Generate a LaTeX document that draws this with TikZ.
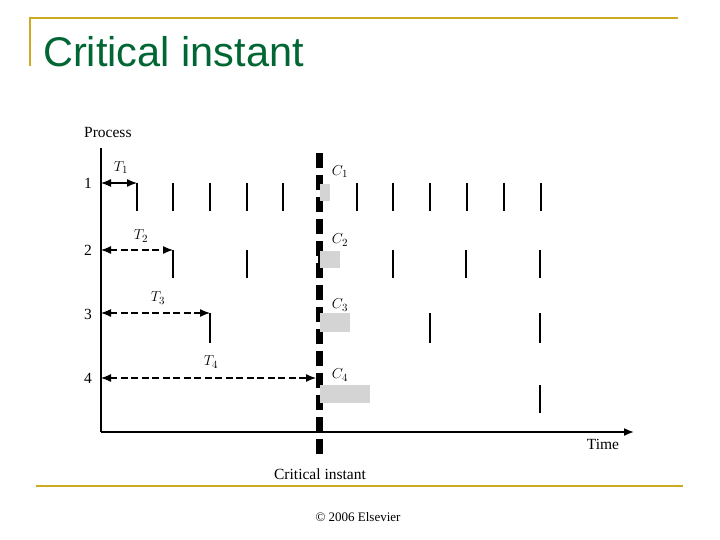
\documentclass[tikz,border=0pt]{standalone}
\usepackage{fontspec}
\newfontfamily\arial{Liberation Sans}
\setmainfont{Liberation Serif}
\usetikzlibrary{arrows.meta}
\begin{document}
\begin{tikzpicture}[x=1pt,y=-1pt,
  tick/.style={line width=1.6pt},
  per/.style={{Latex[length=10pt,width=8pt]}-{Latex[length=10pt,width=8pt]},line width=1.2pt},
  perd/.style={per,dash pattern=on 7pt off 3.5pt},
  job/.style={fill=black!17,draw=none},
  lbl/.style={font=\fontsize{15.5}{15.5}\selectfont,inner sep=0pt}]
\useasboundingbox (0,0) rectangle (720,540);
\fill[white] (0,0) rectangle (720,540);
\draw[color={rgb,255:red,204;green,170;blue,34},line width=2.5pt] (30,66) -- (30,18) -- (678,18);
\draw[color={rgb,255:red,204;green,170;blue,34},line width=2.5pt] (36,486) -- (683,486);
\node[anchor=west,inner sep=0pt,text={rgb,255:red,0;green,102;blue,51},font=\arial\fontsize{41.5}{41.5}\selectfont] (title) at (43,52) {Critical instant};
\node[font=\fontsize{13}{13}\selectfont] (copy) at (358,517) {\textcopyright{} 2006 Elsevier};
% axes
\coordinate (o) at (101,432);
\coordinate (ytop) at (101,148);
\coordinate (xend) at (634,432);
\draw[line width=2pt] (ytop) -- (o);
\draw[line width=1.6pt,-{Latex[length=10pt,width=8pt]}] (o) -- (xend);
\node[lbl,anchor=west] (proc) at (84,133) {Process};
\node[lbl] (time) at (603,444) {Time};
\node[lbl] (ci) at (320,474) {Critical instant};
\node[lbl] (r1) at (88,183) {1};
\node[lbl] (r2) at (88,250) {2};
\node[lbl] (r3) at (88,314) {3};
\node[lbl] (r4) at (88,378) {4};
% critical line
\coordinate (c1) at (319,153);
\coordinate (c2) at (319,460);
\draw[line width=7pt,dash pattern=on 15pt off 7pt] (c1) -- (c2);
% row 1
\foreach \x in {137,173,210,247,283,357,393,430,467,504,541} \draw[tick] (\x,183) -- (\x,211);
\fill[job] (320,184) rectangle (330,201);
% row 2
\foreach \x in {173,247,393,466,540} \draw[tick] (\x,250) -- (\x,278);
\draw[tick] (319,250) -- (319,278);
\fill[job] (320,251) rectangle (340,268);
% row 3
\foreach \x in {210,430,540} \draw[tick] (\x,313) -- (\x,343);
\fill[job] (320,313) rectangle (350,332);
% row 4
\draw[tick] (540,385) -- (540,413);
\fill[job] (320,385) rectangle (370,403);
% periods
\coordinate (a1) at (101,183); \coordinate (b1) at (137,183);
\coordinate (a2) at (101,250); \coordinate (b2) at (173,250);
\coordinate (a3) at (101,313); \coordinate (b3) at (210,313);
\coordinate (a4) at (101,378); \coordinate (b4) at (316,378);
\draw[per] (a1) -- (b1);
\draw[perd] (a2) -- (b2);
\draw[perd] (a3) -- (b3);
\draw[perd] (a4) -- (b4);
\node[lbl] (t1) at (121,168) {$T_1$};
\node[lbl] (t2) at (141,236) {$T_2$};
\node[lbl] (t3) at (158,298) {$T_3$};
\node[lbl] (t4) at (211,362) {$T_4$};
\node[lbl] (k1) at (340,172) {$C_1$};
\node[lbl] (k2) at (340,240) {$C_2$};
\node[lbl] (k3) at (340,305) {$C_3$};
\node[lbl] (k4) at (340,375) {$C_4$};
\end{tikzpicture}
\end{document}
